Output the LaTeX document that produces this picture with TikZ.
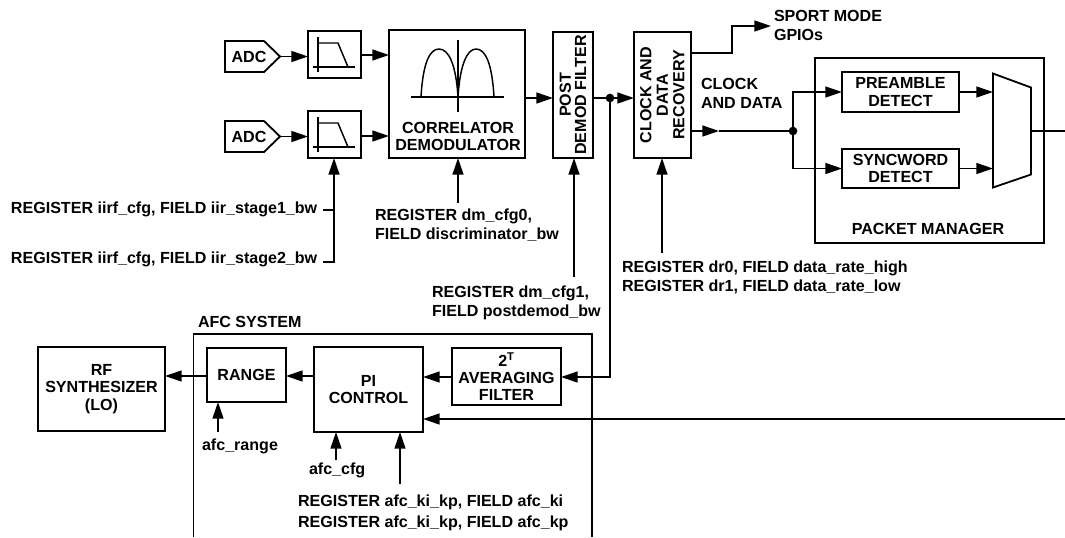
\documentclass[tikz,border=0pt]{standalone}
\usepackage{fontspec}
\setmainfont{Liberation Sans}
\usetikzlibrary{arrows.meta,shapes.symbols,calc}
\tikzset{
  x=0.75pt,y=-0.75pt,
  every node/.style={font=\fontsize{12.05}{12.9}\selectfont\bfseries,inner sep=0pt,outer sep=0pt,text=black},
  blk/.style={draw=black,line width=1.35pt,align=center},
  conn/.style={draw=black,line width=1.2pt},
  arr/.style={conn,-{Triangle[length=12.5pt,width=8.2pt]}},
  lbl/.style={align=left,anchor=west},
  wide/.style={font=\fontsize{12.05}{14.2}\selectfont\bfseries},
  jdot/.style={circle,fill=black,minimum size=6.5pt},
  adcbox/.style={draw=black,line width=1.35pt,signal,signal to=east,signal pointer angle=88,minimum width=41.25pt,minimum height=23.25pt},
  icon/.style={draw=black,line width=1.1pt},
}
\newcommand{\bx}[6]{\node[blk,minimum width={(#4-#2)*0.75pt},minimum height={(#5-#3)*0.75pt},#1] at ({(#2+#4)/2},{(#3+#5)/2}) {#6};}
\begin{document}
\begin{tikzpicture}
\useasboundingbox (0,0) rectangle (1065,537);
% blocks
\node[adcbox] (adc1) at (244.5,56.5) {};
\node[adcbox] (adc2) at (244.5,136.5) {};
\node (adct1) at (249,57) {ADC};
\node (adct2) at (249,137) {ADC};
\bx{name=f1}{308}{31}{361}{78}{}
\bx{name=f2}{308}{111}{361}{158}{}
\bx{name=corr}{389}{30}{525}{158}{}
\node (corrtext) at (458,136.5) [align=center] {CORRELATOR\\DEMODULATOR};
\bx{name=post}{553}{32}{593}{158}{\hspace*{3pt}\rotatebox{90}{\begin{tabular}{@{}c@{}}POST\\[-1.5pt]DEMOD FILTER\end{tabular}}}
\bx{name=cdr}{634}{32}{691}{158}{\hspace*{3pt}\rotatebox{90}{\begin{tabular}{@{}c@{}}CLOCK AND\\[-0.5pt]DATA\\[-0.5pt]RECOVERY\end{tabular}}}
\bx{name=pm}{815}{58}{1044}{243}{}
\bx{name=pre}{842}{72}{959}{112}{PREAMBLE\\DETECT}
\bx{name=syn}{842}{149}{959}{188}{SYNCWORD\\DETECT}
\node[minimum width=28.5pt,minimum height=85.5pt] (mux) at (1012,130.5) {};
\draw[blk] (mux.north west) -- ($(mux.north east)+(0,14)$) -- ($(mux.south east)+(0,-13)$) -- (mux.south west) -- cycle;
\node (pmtext) at (928,228.5) {PACKET MANAGER};
% AFC
\coordinate (afctl) at (193.5,334);
\coordinate (afctr) at (592,334);
\coordinate (afcbl) at (193.5,537);
\coordinate (afcbr) at (592,537);
\node[lbl] (afctext) at (198,322) {AFC SYSTEM};
\bx{name=rf}{38}{347}{165}{431}{RF\\SYNTHESIZER\\(LO)}
\bx{name=range}{207}{348}{286}{402}{RANGE}
\bx{name=pi}{314}{347}{423}{432}{PI\\CONTROL}
\bx{name=avg}{452}{348}{561}{405}{2\textsuperscript{T}\\AVERAGING\\FILTER}
% text
\node[lbl,wide] (sport) at (774,25.5) {SPORT MODE\\GPIOs};
\node[lbl,wide] (clk) at (701,93.5) {CLOCK\\AND DATA};
\node[lbl] (r1) at (11,209) {REGISTER iirf\_cfg, FIELD iir\_stage1\_bw};
\node[lbl] (r2) at (11,259) {REGISTER iirf\_cfg, FIELD iir\_stage2\_bw};
\node[lbl,wide] (r3) at (375,225) {REGISTER dm\_cfg0,\\FIELD discriminator\_bw};
\node[lbl,wide] (r4) at (432,303) {REGISTER dm\_cfg1,\\FIELD postdemod\_bw};
\node[lbl,wide] (r5) at (622,277.5) {REGISTER dr0, FIELD data\_rate\_high\\REGISTER dr1, FIELD data\_rate\_low};
\node (rangetxt) at (240,446) {afc\_range};
\node[lbl] (cfgtxt) at (309,470.5) {afc\_cfg};
\node[lbl,font=\fontsize{12.05}{15.5}\selectfont\bfseries] (r6) at (298,513) {REGISTER afc\_ki\_kp, FIELD afc\_ki\\REGISTER afc\_ki\_kp, FIELD afc\_kp};
% connectors
\draw[arr] (adc1.east) -- (adc1.east -| f1.west);
\draw[arr] (adc2.east) -- (adc2.east -| f2.west);
\coordinate (c1) at (361,55); \coordinate (c2) at (361,136);
\draw[arr] (c1) -- (c1 -| corr.west);
\draw[arr] (c2) -- (c2 -| corr.west);
\coordinate (c3) at (525,98);
\draw[arr] (c3) -- (c3 -| post.west);
\coordinate (c4) at (593,98);
\draw[arr] (c4) -- (c4 -| cdr.west);
\node[jdot] (d1) at (610,98) {};
\coordinate (c5) at (691,53); \coordinate (c6) at (732,53); \coordinate (c7) at (732,26); \coordinate (c8) at (771,26);
\draw[arr] (c5) -- (c6) -- (c7) -- (c8);
\coordinate (c9) at (691,131);
\node[jdot] (d2) at (793,131) {};
\coordinate (c10) at (719,131);
\draw[arr] (c9) -- (c10);
\draw[conn] (c10) -- (d2);
\draw[arr] (d2.center) -- (d2 |- pre.west) -- (pre.west);
\draw[arr] (d2.center) -- (d2 |- syn.west) -- (syn.west);
\draw[arr] (pre.east) -- (pre.east -| mux.west);
\draw[arr] (syn.east) -- (syn.east -| mux.west);
\coordinate (out) at (1065,131);
\draw[conn] (mux.east |- out) -- (out);
\draw[line width=1.2pt] (afcbl) -- (afctl) -- (afctr) -- (afcbr);
\coordinate (c11) at (334,262); \coordinate (c12) at (334,210);
\coordinate (c13) at (323,262); \coordinate (c14) at (323,210);
\draw[conn] (c14) -- (c12);
\draw[arr] (c13) -- (c11) -- (c11 |- f2.south);
\coordinate (c15) at (458,203); \draw[arr] (c15) -- (c15 |- corr.south);
\coordinate (c16) at (574,277); \draw[arr] (c16) -- (c16 |- post.south);
\coordinate (c17) at (662,253); \draw[arr] (c17) -- (c17 |- cdr.south);
\coordinate (c18) at (610,377);
\draw[arr] (d1.center) -- (c18) -- (c18 -| avg.east);
\coordinate (c19) at (452,377); \draw[arr] (c19) -- (c19 -| pi.east);
\coordinate (c20) at (314,376); \draw[arr] (c20) -- (c20 -| range.east);
\coordinate (c21) at (207,376); \draw[arr] (c21) -- (c21 -| rf.east);
\coordinate (c22) at (1065,419); \draw[arr] (c22) -- (c22 -| pi.east);
\coordinate (c23) at (218,432); \draw[arr] (c23) -- (c23 |- range.south);
\coordinate (c24) at (336,460); \draw[arr] (c24) -- (c24 |- pi.south);
\coordinate (c25) at (400,484); \draw[arr] (c25) -- (c25 |- pi.south);
% filter icons
\foreach \d in {0,80}{
  \draw[icon] (318,37+\d) -- (318,72+\d);
  \draw[icon] (313,67+\d) -- (355,67+\d);
  \draw[icon] (318,43+\d) -- (338,43+\d) -- (348,67+\d);
}
% correlator icon
\draw[icon] (411,97) -- (504,97);
\draw[icon] (458,40) -- (458,112);
\draw[icon] (421,97) .. controls (423,62) and (430,49) .. (439,49) .. controls (449,49) and (456,65) .. (458,97);
\draw[icon] (458,97) .. controls (460,65) and (467,49) .. (476,49) .. controls (485,49) and (492,62) .. (494,97);
\end{tikzpicture}
\end{document}
